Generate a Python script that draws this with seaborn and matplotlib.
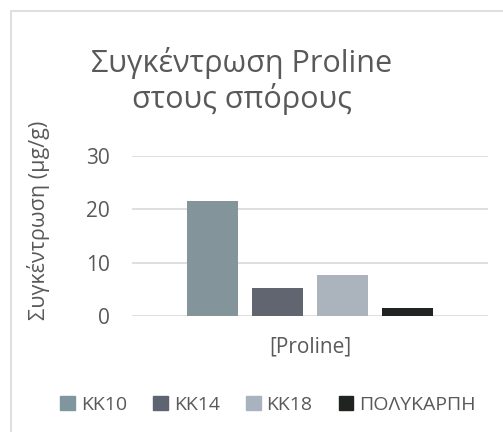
import pandas as pd
import seaborn as sns
import matplotlib.pyplot as plt
from matplotlib.patches import Rectangle

category = ["[Proline]"]
series = ["KK10", "KK14", "KK18", "ΠΟΛΥΚΑΡΠΗ"]
values = [21.6, 5.25, 7.7, 1.5]
colors = ["#7F969E", "#5E6472", "#A8B3BF", "#1F2421"]
yticks = [0, 10, 20, 30]

df = pd.DataFrame({"cat": category * len(series), "series": series, "value": values})

sns.set_style("white")
plt.rcParams["font.family"] = ["Open Sans", "DejaVu Sans"]
txt = "#595959"

fig = plt.figure(figsize=(5.03, 4.32), dpi=100)
ax = fig.add_axes([132 / 503, 1 - 316 / 432, 356 / 503, 160 / 432])

sns.barplot(data=df, x="cat", y="value", hue="series", palette=colors,
            width=0.73, gap=0.215, ax=ax, legend=False, linewidth=0)

ax.set_ylim(0, 30)
ax.set_yticks(yticks)
ax.set_xlim(-0.5, 0.5)
for s in ax.spines.values():
    s.set_visible(False)
ax.grid(axis="y", color="#D9D9D9", linewidth=1.2)
ax.set_axisbelow(True)
ax.tick_params(axis="both", length=0, labelsize=15, colors=txt)
ax.tick_params(axis="y", pad=16)
ax.tick_params(axis="x", pad=15)
ax.set_xlabel("")
ax.set_ylabel("Συγκέντρωση (μg/g)", fontsize=15.5, color=txt)
ax.yaxis.set_label_coords(-0.23, 0.6)

fig.text(242 / 503, 1 - 81 / 432, "Συγκέντρωση Proline\nστους σπόρους",
         ha="center", va="center", fontsize=22, color=txt, linespacing=1.15)

handles = [Rectangle((0, 0), 1, 1, color=c) for c in colors]
fig.legend(handles, series, loc="center", bbox_to_anchor=(268 / 503, 1 - 405 / 432),
           ncol=4, frameon=False, fontsize=14, labelcolor=txt,
           handlelength=0.75, handleheight=0.75, handletextpad=0.3, columnspacing=1.35)

fig.patches.append(Rectangle((11 / 503, -0.1), 1.2, 1 - 11 / 432 + 0.1,
                             transform=fig.transFigure, fill=False,
                             edgecolor="#D9D9D9", linewidth=1.2))

fig.savefig("out.png", dpi=100)
